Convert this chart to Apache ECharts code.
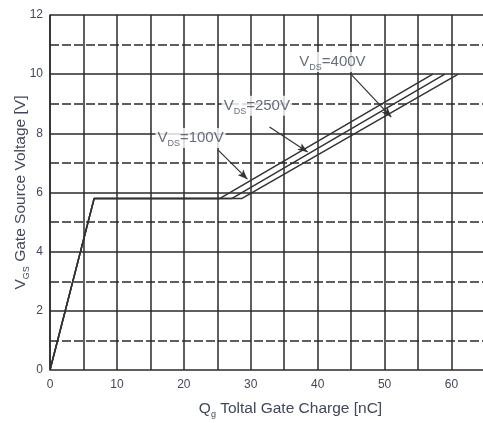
<!DOCTYPE html>
<html>
<head>
<meta charset="utf-8">
<script src="https://cdn.jsdelivr.net/npm/echarts@6/dist/echarts.min.js"></script>
<style>html,body{margin:0;padding:0;background:#fff}#c{width:483px;height:423px}</style>
</head>
<body>
<div id="c"></div>
<script>
// Data
const seriesNames = ['VDS=100V', 'VDS=250V', 'VDS=400V'];
const q100 = [0, 6.6, 25.4, 57.2];
const v100 = [0, 5.8, 5.8, 10];
const q250 = [0, 6.6, 27.2, 59.0];
const v250 = [0, 5.8, 5.8, 10];
const q400 = [0, 6.6, 28.7, 61.0];
const v400 = [0, 5.8, 5.8, 10];
const xTickLabels = ['0', '10', '20', '30', '40', '50', '60'];
const yTickLabels = ['0', '2', '4', '6', '8', '10', '12'];
// annotations (data coordinates)
const annoText = ['100V', '250V', '400V'];
const annoQ = [21.0, 30.9, 42.2];
const annoV = [7.84, 8.93, 10.41];
const arrowFromQ = [25.1, 32.8, 45.1];
const arrowFromV = [7.44, 8.21, 9.97];
const arrowToQ = [29.5, 38.5, 51.0];
const arrowToV = [6.45, 7.37, 8.55];

const TXT = '#3e4864';
const GRID = '#2a2a2a';
const FONT = '"Liberation Sans", Arial, sans-serif';

function zip(a, b) { return a.map((x, i) => [x, b[i]]); }

const chart = echarts.init(document.getElementById('c'));
function richSet(big, small, lh) {
  return {
    v: { fontSize: big, color: TXT, fontFamily: FONT, lineHeight: lh, verticalAlign: 'middle' },
    s: { fontSize: small, color: TXT, fontFamily: FONT, lineHeight: lh, verticalAlign: 'bottom' },
    t: { fontSize: big, color: TXT, fontFamily: FONT, lineHeight: lh, verticalAlign: 'middle' }
  };
}

const curveSeries = [zip(q100, v100), zip(q250, v250), zip(q400, v400)].map((d, i) => ({
  name: seriesNames[i],
  type: 'line',
  data: d,
  symbol: 'none',
  lineStyle: { color: '#333', width: 1.5 },
  z: 5
}));

const annoSeries = {
  type: 'scatter',
  data: annoQ.map((q, i) => [q, annoV[i]]),
  symbolSize: 0,
  silent: true,
  z: 6,
  label: {
    show: true,
    position: 'inside',
    backgroundColor: '#fff',
    padding: [0, 2, 0, 2],
    formatter: p => '{v|V}{s|DS}{t|=' + annoText[p.dataIndex] + '}',
    rich: richSet(15, 9, 20)
  },
  markLine: {
    silent: true,
    symbol: ['none', 'arrow'],
    symbolSize: [6, 10],
    label: { show: false },
    lineStyle: { color: '#333', width: 1.2, type: 'solid' },
    data: arrowFromQ.map((q, i) => [
      { coord: [q, arrowFromV[i]] },
      { coord: [arrowToQ[i], arrowToV[i]] }
    ])
  }
};

chart.setOption({
  animation: false,
  backgroundColor: '#fff',
  grid: { left: 50, top: 15, width: 435, height: 355, outerBoundsMode: 'none', containLabel: false },
  xAxis: {
    type: 'value', min: 0, max: 65, interval: 5,
    axisLine: { show: false },
    axisTick: { show: false },
    axisLabel: {
      color: TXT, fontSize: 12, fontFamily: FONT, margin: 9,
      formatter: v => (xTickLabels.indexOf(String(v)) >= 0 ? String(v) : '')
    },
    splitLine: { show: true, lineStyle: { color: GRID, width: 1.5 } },
    name: '{v|Q}{s|g}{t| Toltal Gate Charge [nC]}',
    nameLocation: 'middle', nameGap: 29, nameMoveOverlap: false,
    nameTextStyle: { padding: [0, 0, 0, 46], rich: richSet(15.5, 9, 20) }
  },
  yAxis: {
    type: 'value', min: 0, max: 12, interval: 2,
    axisLine: { show: true, lineStyle: { color: GRID, width: 1.5 } },
    axisTick: { show: false },
    axisLabel: {
      color: TXT, fontSize: 12, fontFamily: FONT, margin: 7,
      formatter: v => (yTickLabels.indexOf(String(v)) >= 0 ? String(v) : '')
    },
    splitLine: { show: true, lineStyle: { color: GRID, width: 1.5 } },
    minorTick: { show: false, splitNumber: 2 },
    minorSplitLine: { show: true, lineStyle: { color: GRID, width: 1.5, type: [9, 3] } },
    name: '{v|V}{s|GS}{t| Gate Source Voltage [V]}',
    nameLocation: 'middle', nameGap: 19, nameMoveOverlap: false,
    nameTextStyle: { rich: richSet(15.5, 9, 20) }
  },
  series: curveSeries.concat([annoSeries])
});
</script>
</body>
</html>
